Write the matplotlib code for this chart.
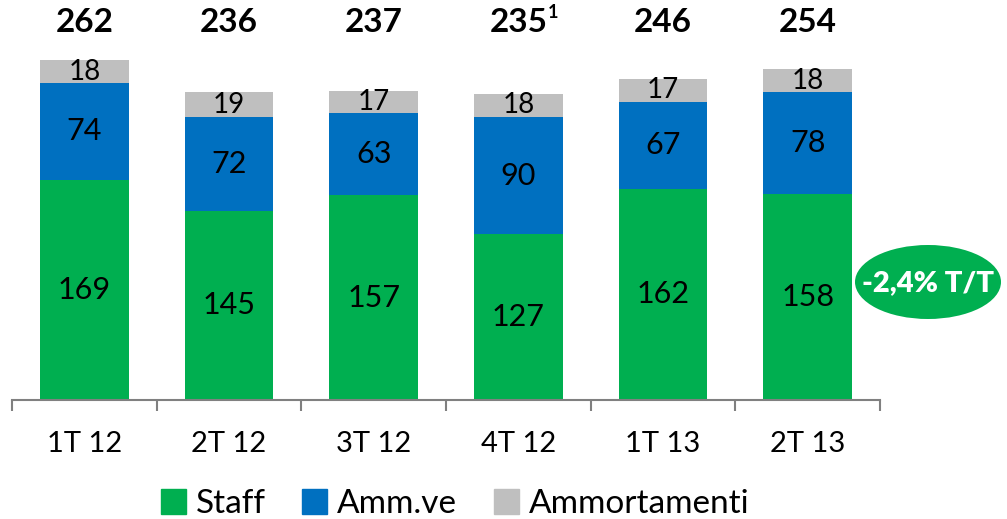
import matplotlib.pyplot as plt
from matplotlib.patches import Patch, Ellipse

# dati
periodi = ['1T 12', '2T 12', '3T 12', '4T 12', '1T 13', '2T 13']
staff = [169, 145, 157, 127, 162, 158]
amm_ve = [74, 72, 63, 90, 67, 78]
ammortamenti = [18, 19, 17, 18, 17, 18]
totali = ['262', '236', '237', '235', '246', '254']
nota = ['', '', '', '1', '', '']

verde = '#00AF50'
blu = '#0070C0'
grigio = '#BFBFBF'

plt.rcParams['font.family'] = ['Lato', 'DejaVu Sans']

fig = plt.figure(figsize=(10.07, 5.19), dpi=100)
ax = fig.add_axes([12 / 1007, 1 - 400 / 519, 868 / 1007, 378 / 519])

x = list(range(len(periodi)))
w = 0.615
base2 = [s for s in staff]
base3 = [s + a for s, a in zip(staff, amm_ve)]

ax.bar(x, staff, w, color=verde)
ax.bar(x, amm_ve, w, bottom=base2, color=blu)
ax.bar(x, ammortamenti, w, bottom=base3, color=grigio)

for i in x:
    ax.text(i, staff[i] / 2, str(staff[i]), ha='center', va='center', fontsize=22)
    ax.text(i, base2[i] + amm_ve[i] / 2, str(amm_ve[i]), ha='center', va='center', fontsize=22)
    ax.text(i, base3[i] + ammortamenti[i] / 2, str(ammortamenti[i]), ha='center', va='center', fontsize=20)
    ax.text(i, 290, totali[i], ha='center', va='center', fontsize=24, fontweight='bold', clip_on=False)
    if nota[i]:
        ax.annotate(nota[i], xy=(i, 290), xytext=(21, 7), textcoords='offset points',
                    ha='left', va='center', fontsize=13, fontweight='bold', annotation_clip=False)

ax.set_xlim(-0.5, 5.5)
ax.set_ylim(0, 290)
ax.set_xticks(x)
ax.set_xticklabels(periodi, fontsize=21)
ax.set_xticks([i - 0.5 for i in range(len(periodi) + 1)], minor=True)
ax.tick_params(axis='x', which='major', length=0, pad=22)
ax.tick_params(axis='x', which='minor', length=8, color='#808080', width=1.5)
ax.set_yticks([])
for s in ['top', 'right', 'left']:
    ax.spines[s].set_visible(False)
ax.spines['bottom'].set_color('#808080')
ax.spines['bottom'].set_linewidth(1.5)

# badge
fig.patches.append(Ellipse((928 / 1007, 1 - 282 / 519), 146 / 1007, 74 / 519,
                           transform=fig.transFigure, fc=verde, ec='none'))
fig.text(928 / 1007, 1 - 283 / 519, '-2,4% T/T', ha='center', va='center', fontsize=21,
         fontweight='heavy', color='white')

handles = [Patch(color=verde, label='Staff'), Patch(color=blu, label='Amm.ve'),
           Patch(color=grigio, label='Ammortamenti')]
fig.legend(handles=handles, loc='center', bbox_to_anchor=(455 / 1007, 1 - 504 / 519), ncol=3,
           frameon=False, fontsize=24, handlelength=0.75, handleheight=0.75,
           handletextpad=0.3, columnspacing=1.1, borderpad=0.1)

fig.savefig('out.png', dpi=100)
